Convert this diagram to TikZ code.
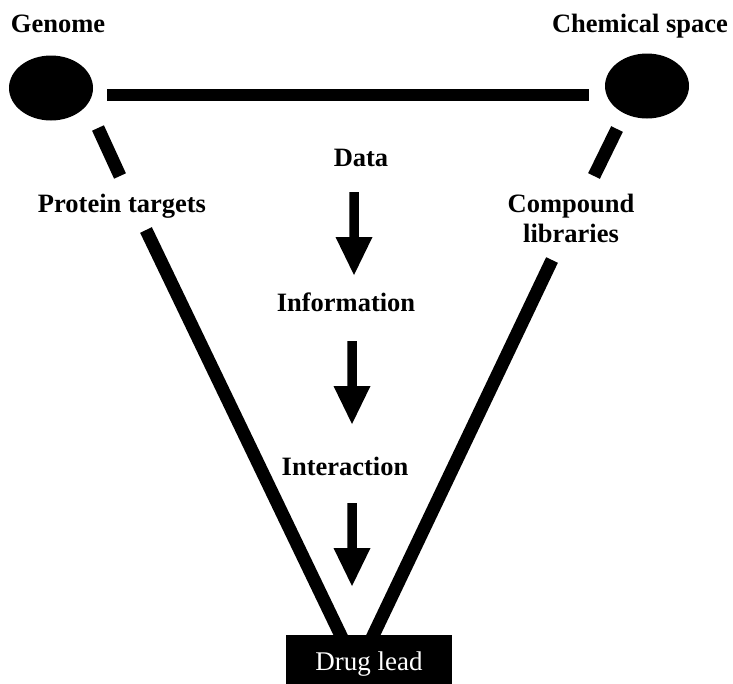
\documentclass[tikz,border=0pt]{standalone}
\usepackage{fontspec}
\setmainfont{Liberation Serif}
\usetikzlibrary{shapes.geometric}
\begin{document}
\begin{tikzpicture}[x=1pt, y=-1pt,
  lbl/.style={font=\fontsize{26.5}{30}\selectfont\bfseries, inner sep=0pt, anchor=base},
  blob/.style={ellipse, fill=black, inner sep=0pt, minimum width=84pt, minimum height=65pt},
  edge/.style={line width=13pt, line cap=butt},
  topbar/.style={line width=12pt, line cap=butt},
  flowarrow/.pic={\fill (-4.75,0) -- (4.75,0) -- (4.75,45) -- (18.5,45) -- (0,83)
                   -- (-18.5,45) -- (-4.75,45) -- cycle;}]
\useasboundingbox (0,0) rectangle (733,683);

% corner labels
\node[lbl] (genomelbl) at (58,32) {Genome};
\node[lbl] (chemlbl) at (640,32) {Chemical space};

% the two sources
\node[blob] (genome) at (51,88) {};
\node[blob] (chem) at (647,86) {};

% side labels
\node[lbl] (protein) at (122,212) {Protein targets};
\node[lbl, anchor=north, align=center] (compound) at (571,194) {Compound\\libraries};

% pipeline labels
\node[lbl] (data) at (361,166) {Data};
\node[lbl] (info) at (346,311) {Information};
\node[lbl] (inter) at (345,475) {Interaction};

% end points of the connecting bars
\coordinate (t1) at (107,95);
\coordinate (t2) at (589,95);
\coordinate (g1) at (98,128);
\coordinate (g2) at (120,176);
\coordinate (g3) at (146,230);
\coordinate (g4) at (343,640);
\coordinate (c1) at (617,129);
\coordinate (c2) at (594,176);
\coordinate (c3) at (552,260);
\coordinate (c4) at (371,640);

\draw[topbar] (t1) -- (t2);
\draw[edge] (g1) -- (g2);
\draw[edge] (g3) -- (g4);
\draw[edge] (c1) -- (c2);
\draw[edge] (c3) -- (c4);

% downward arrows
\pic (arrow1) at (354,192) {flowarrow};
\pic (arrow2) at (352,341) {flowarrow};
\pic (arrow3) at (352,503) {flowarrow};

% result box
\node[fill=black, text=white, anchor=north, inner xsep=0pt, inner ysep=0pt,
      minimum width=166pt, text height=35pt, text depth=15pt,
      font=\fontsize{27}{30}\selectfont] (lead) at (369,635) {Drug lead};
\end{tikzpicture}
\end{document}
